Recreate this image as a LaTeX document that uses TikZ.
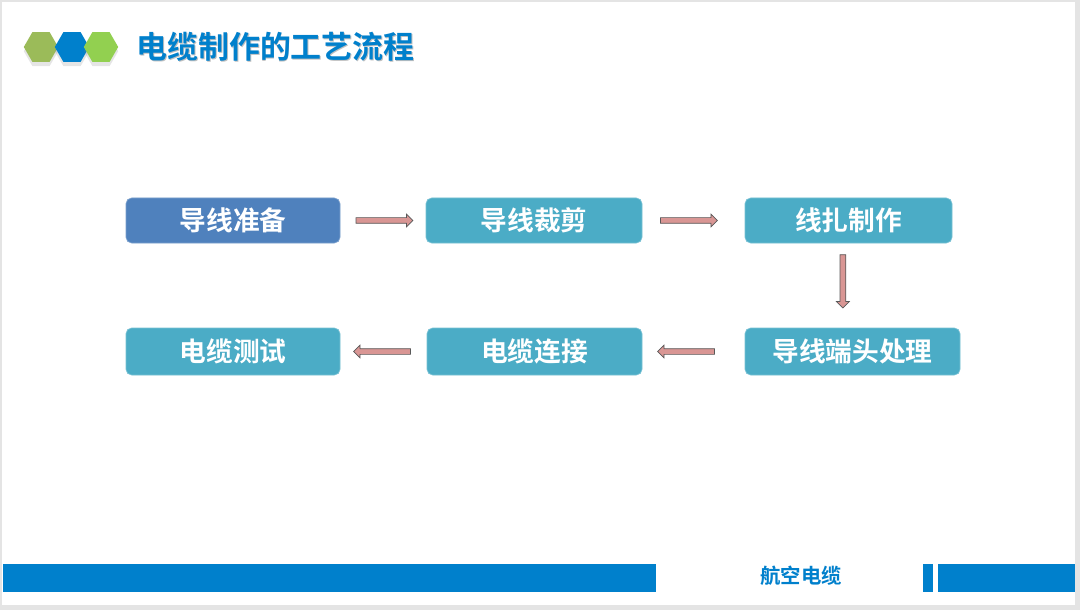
\documentclass[tikz,border=0pt]{standalone}
\usepackage{fontspec}
\setmainfont{Noto Sans CJK SC}[BoldFont={Noto Sans CJK SC Bold}]
\usepackage{xcolor}
\usetikzlibrary{shapes.geometric, shapes.arrows, shadows}
\definecolor{frameGray}{HTML}{E4E4E4}
\definecolor{barBlue}{HTML}{0080CC}
\definecolor{stepDark}{HTML}{4F81BD}
\definecolor{stepTeal}{HTML}{4BACC6}
\definecolor{arrPink}{HTML}{D99694}
\definecolor{arrInk}{HTML}{595959}
\definecolor{hexOne}{HTML}{9BBB59}
\definecolor{hexThree}{HTML}{92D050}
\tikzset{
  stepbox/.style={rounded corners=4pt, fill=stepTeal, draw=stepTeal!75!white, line width=0.5pt,
    text=white, font=\fontsize{19}{22}\selectfont\bfseries, inner sep=0pt},
  flowarr/.style={single arrow, fill=arrPink, draw=arrInk, line width=0.5pt, sloped, allow upside down,
    minimum height=1.42cm, minimum width=0.3cm, inner xsep=0pt, inner ysep=0.0625cm,
    single arrow head extend=0.0875cm},
  hexa/.style={regular polygon, regular polygon sides=6, minimum size=0.86cm, inner sep=0pt,
    drop shadow={opacity=0.2, shadow xshift=0pt, shadow yshift=-3pt}},
}
\begin{document}
\begin{tikzpicture}
  % slide frame
  \fill[frameGray] (0,0) rectangle (27,-15.25);
  \fill[white] (0.06,-0.05) rectangle (26.875,-15.125);
  \useasboundingbox (0,0) rectangle (27,-15.25);

  % header
  \node[hexa, fill=hexOne] (hexa1) at (1.025,-1.175) {};
  \node[hexa, fill=barBlue] (hexa2) at (1.8,-1.175) {};
  \node[hexa, fill=hexThree] (hexa3) at (2.525,-1.175) {};
  \node[text=black!25, font=\fontsize{22}{26}\selectfont\bfseries] at (6.91,-1.2) {电缆制作的工艺流程};
  \node[text=barBlue, font=\fontsize{22}{26}\selectfont\bfseries] (title) at (6.8875,-1.175) {电缆制作的工艺流程};

  % process steps
  \node[stepbox, fill=stepDark, draw=stepDark!75!white, minimum width=5.35cm, minimum height=1.125cm] (prep) at (5.825,-5.5125) {导线准备};
  \node[stepbox, minimum width=5.4cm, minimum height=1.125cm] (cut) at (13.35,-5.5125) {导线裁剪};
  \node[stepbox, minimum width=5.175cm, minimum height=1.125cm] (tie) at (21.2125,-5.5125) {线扎制作};
  \node[stepbox, minimum width=5.375cm, minimum height=1.175cm] (term) at (21.3125,-8.7875) {导线端头处理};
  \node[stepbox, minimum width=5.375cm, minimum height=1.175cm] (conn) at (13.3625,-8.7875) {电缆连接};
  \node[stepbox, minimum width=5.35cm, minimum height=1.175cm] (test) at (5.825,-8.7875) {电缆测试};

  \path (prep) -- node[flowarr] {} (cut);
  \path (cut) -- node[flowarr, xshift=-0.15cm] {} (tie);
  \path (tie.south) -- node[flowarr, minimum height=1.33cm, xshift=-0.14cm, yshift=-0.14cm] {} (tie.south |- term.north);
  \path (term) -- node[flowarr, xshift=0.15cm] {} (conn);
  \path (conn) -- node[flowarr] {} (test);

  % footer
  \fill[barBlue] (0.075,-14.1) rectangle (16.4,-14.8);
  \fill[barBlue] (23.075,-14.1) rectangle (23.325,-14.8);
  \fill[barBlue] (23.45,-14.1) rectangle (26.875,-14.8);
  \node[text=barBlue, font=\fontsize{14.5}{17}\selectfont\bfseries] (brand) at (20.025,-14.4) {航空电缆};
\end{tikzpicture}
\end{document}
